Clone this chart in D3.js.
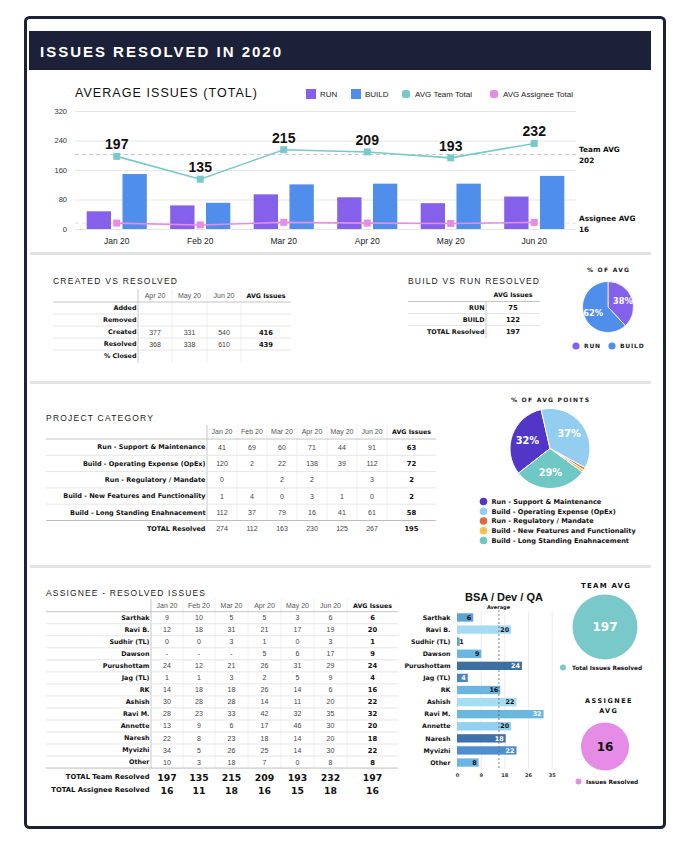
<!DOCTYPE html>
<html><head><meta charset="utf-8">
<script src="https://cdn.jsdelivr.net/npm/d3@7/dist/d3.min.js"></script>
<style>
body{margin:0;background:#fff;}
svg{display:block;font-family:"Liberation Sans",Arial,Helvetica,sans-serif;}
</style></head><body>
<svg id="c" width="673" height="841"></svg>
<script>
// ---------------- DATA ----------------
const months = ["Jan 20","Feb 20","Mar 20","Apr 20","May 20","Jun 20"];
const runValues = [48,64,94,86,70,88];
const buildValues = [149,71,121,123,123,144];
const teamTotals = [197,135,215,209,193,232];
const assigneeTotals = [16,11,18,16,15,18];
const teamAvgLine = 202;
const assigneeAvgLine = 16;
const yTicks = [0,80,160,240,320];

const crColumns = ["Apr 20","May 20","Jun 20","AVG Issues"];
const crRowLabels = ["Added","Removed","Created","Resolved","% Closed"];
const crValues = [["","","",""],["","","",""],["377","331","540","416"],["368","338","610","439"],["","","",""]];

const brColumns = ["AVG Issues"];
const brLabels = ["RUN","BUILD","TOTAL Resolved"];
const brValues = [["75"],["122"],["197"]];
const pieAvgLabels = ["RUN","BUILD"];
const pieAvgValues = [75,122];

const projColumns = ["Jan 20","Feb 20","Mar 20","Apr 20","May 20","Jun 20","AVG Issues"];
const projCategories = ["Run - Support & Maintenance","Build - Operating Expense (OpEx)","Run - Regulatory / Mandate","Build - New Features and Functionality","Build - Long Standing Enahnacement"];
const projValues = [
  ["41","69","60","71","44","91","63"],
  ["120","2","22","138","39","112","72"],
  ["0","","2","2","","3","2"],
  ["1","4","0","3","1","0","2"],
  ["112","37","79","16","41","61","58"]
];
const projTotals = ["274","112","163","230","125","267","195"];
const projPieValues = [63,72,2,2,58];

const assignees = ["Sarthak","Ravi B.","Sudhir (TL)","Dawson","Purushottam","Jag (TL)","RK","Ashish","Ravi M.","Annette","Naresh","Myvizhi","Other"];
const assigneeMonthly = [
  ["9","10","5","5","3","6","6"],
  ["12","18","31","21","17","19","20"],
  ["0","0","3","1","0","3","1"],
  ["-","-","-","5","6","17","9"],
  ["24","12","21","26","31","29","24"],
  ["1","1","3","2","5","9","4"],
  ["14","18","18","26","14","6","16"],
  ["30","28","28","14","11","20","22"],
  ["28","23","33","42","32","35","32"],
  ["13","9","6","17","46","30","20"],
  ["22","8","23","18","14","20","18"],
  ["34","5","26","25","14","30","22"],
  ["10","3","18","7","0","8","8"]
];
const teamResolvedRow = ["197","135","215","209","193","232","197"];
const assigneeResolvedRow = ["16","11","18","16","15","18","16"];
const assigneeAvgs = [6,20,1,9,24,4,16,22,32,20,18,22,8];
const bsaTicks = [0,8.75,17.5,26.25,35];
const bsaAverage = 15.5;
const teamAvgValue = 197;
const assigneeAvgValue = 16;

// ---------------- STYLES ----------------
const C_RUN = "#8560ea", C_BUILD = "#4f8eea", C_TEAM = "#79c9ca", C_ASG = "#e68ce6";
const pieAvgColors = [C_RUN, C_BUILD];
const projColors = ["#5236c8","#93cdf0","#e0683a","#f2c14e","#70c8c5"];
const bsaColors = ["#5ea3d3","#a6daf5","#5ea3d3","#6bb5e2","#3e6fa3","#4b86c4","#6cb5e0","#a6dcf4","#6ab7de","#94d0ef","#3f72a8","#4f8fcf","#6db6e3"];
const bsaLabelColors = ["#111","#111","#111","#111","#fff","#fff","#111","#111","#fff","#111","#fff","#fff","#111"];
const FONT = '"Liberation Sans",Arial,Helvetica,sans-serif';
const BF = '"DejaVu Sans",Verdana,sans-serif';

const svg = d3.select("#c");

// frame + header
svg.append("rect").attr("x",25.5).attr("y",17.5).attr("width",639).attr("height",810).attr("rx",4)
  .attr("fill","#fff").attr("stroke","#1e2236").attr("stroke-width",3);
svg.append("rect").attr("x",29).attr("y",31).attr("width",622).attr("height",39).attr("fill","#1c2039");
svg.append("text").attr("x",40).attr("y",57).attr("fill","#fff").attr("font-size",15).attr("font-weight",700)
  .attr("textLength",241).attr("lengthAdjust","spacing").text("ISSUES RESOLVED IN 2020");

// separators
[252,381,565].forEach(yy=>svg.append("rect").attr("x",30).attr("y",yy).attr("width",621).attr("height",3).attr("fill","#e2e2e2"));

function spacedText(x,y,txt,size,len,opts={}){
  return svg.append("text").attr("x",x).attr("y",y).attr("font-size",size)
    .attr("font-family",opts.family||FONT)
    .attr("font-weight",opts.weight||400).attr("fill",opts.fill||"#1a1a1a")
    .attr("text-anchor",opts.anchor||"start")
    .attr("textLength",len).attr("lengthAdjust","spacing").text(txt);
}

// ---------------- CHART 1 ----------------
spacedText(75,97,"AVERAGE ISSUES (TOTAL)",12.5,182,{fill:"#111"});
const legendItems = [
  {name:"RUN",color:C_RUN,x:306,shape:"sq"},
  {name:"BUILD",color:C_BUILD,x:351,shape:"sq"},
  {name:"AVG Team Total",color:C_TEAM,x:402,shape:"oct"},
  {name:"AVG Assignee Total",color:C_ASG,x:490,shape:"oct"}
];
const lg = svg.append("g");
lg.selectAll("rect").data(legendItems).join("rect")
  .attr("x",d=>d.x).attr("y",d=>d.shape==="sq"?89:90).attr("width",d=>d.shape==="sq"?10:8).attr("height",d=>d.shape==="sq"?10:8)
  .attr("rx",d=>d.shape==="sq"?0:2.5).attr("fill",d=>d.color);
lg.selectAll("text").data(legendItems).join("text")
  .attr("x",d=>d.x+(d.shape==="sq"?14:13)).attr("y",97).attr("font-size",8).attr("fill","#222").text(d=>d.name);

const x0 = d3.scaleBand().domain(months).range([75,576]).paddingInner(0.28).paddingOuter(0.14);
const x1 = d3.scaleBand().domain(["RUN","BUILD"]).range([0,x0.bandwidth()]).paddingInner(0.32);
const y = d3.scaleLinear().domain([0,320]).range([229,111]);

const gy = svg.append("g").attr("transform","translate(75,0)")
  .call(d3.axisLeft(y).tickValues(yTicks).tickSize(-(576-75)).tickPadding(8));
gy.select(".domain").remove();
gy.attr("font-family",FONT).attr("font-size",7.5);
gy.selectAll("line").attr("stroke","#e6e6e6");
gy.selectAll("text").attr("fill","#333");

const gx = svg.append("g").attr("transform","translate(0,229)")
  .call(d3.axisBottom(x0).tickSize(0).tickPadding(9));
gx.select(".domain").remove();
gx.attr("font-family",FONT).attr("font-size",8.5);
gx.selectAll("text").attr("fill","#222");

// avg dashed lines
svg.append("line").attr("x1",75).attr("x2",576).attr("y1",y(teamAvgLine)).attr("y2",y(teamAvgLine))
  .attr("stroke","#c9c9c9").attr("stroke-dasharray","4,3");
svg.append("line").attr("x1",75).attr("x2",576).attr("y1",y(assigneeAvgLine)).attr("y2",y(assigneeAvgLine))
  .attr("stroke","#e0e0e0").attr("stroke-dasharray","4,3");

const barData = months.map((m,i)=>({m, vals:[{k:"RUN",v:runValues[i]},{k:"BUILD",v:buildValues[i]}]}));
const bg = svg.append("g").selectAll("g").data(barData).join("g").attr("transform",d=>`translate(${x0(d.m)},0)`);
bg.selectAll("rect").data(d=>d.vals).join("rect")
  .attr("x",d=>x1(d.k)).attr("width",x1.bandwidth())
  .attr("y",d=>y(d.v)).attr("height",d=>y(0)-y(d.v))
  .attr("fill",d=>d.k==="RUN"?C_RUN:C_BUILD);

const cx = m=>x0(m)+x0.bandwidth()/2;
function drawLine(vals,color,labels){
  const pts = months.map((m,i)=>({m,v:vals[i]}));
  svg.append("path").datum(pts).attr("fill","none").attr("stroke",color).attr("stroke-width",1.6)
    .attr("d",d3.line().x(d=>cx(d.m)).y(d=>y(d.v)));
  svg.append("g").selectAll("rect").data(pts).join("rect")
    .attr("x",d=>cx(d.m)-3.5).attr("y",d=>y(d.v)-3.5).attr("width",7).attr("height",7).attr("fill",color);
  if(labels){
    svg.append("g").selectAll("text").data(pts).join("text")
      .attr("x",d=>cx(d.m)).attr("y",d=>y(d.v)-7).attr("text-anchor","middle")
      .attr("font-size",14).attr("font-weight",700).attr("fill","#111").text(d=>d.v);
  }
}
drawLine(teamTotals,C_TEAM,true);
drawLine(assigneeTotals,C_ASG,false);

const sideLabels = [["Team AVG",151.5],[String(teamAvgLine),163],["Assignee AVG",220.5],[String(assigneeAvgLine),232]];
svg.append("g").selectAll("text").data(sideLabels).join("text")
  .attr("x",579).attr("y",d=>d[1]).attr("font-family",BF).attr("font-size",7.3).attr("font-weight",700).attr("fill","#111").text(d=>d[0]);

// ---------------- TABLE HELPER ----------------
function drawTable(o){
  const g = svg.append("g");
  const centers = o.edges.slice(0,-1).map((e,i)=>(e+o.edges[i+1])/2);
  g.selectAll(".vs").data(o.edges.slice(1,-1)).join("line")
    .attr("x1",d=>d).attr("x2",d=>d).attr("y1",o.headerTop).attr("y2",o.bodyBottom).attr("stroke","#f0f0f0");
  g.append("line").attr("x1",o.edges[0]).attr("x2",o.edges[0]).attr("y1",o.headerTop).attr("y2",o.bodyBottom).attr("stroke","#c8c8c8");
  g.append("line").attr("x1",o.left).attr("x2",o.right).attr("y1",o.rowTop).attr("y2",o.rowTop).attr("stroke","#c4c4c4");
  g.selectAll(".hd").data(o.columns).join("text")
    .attr("x",(d,i)=>centers[i]).attr("y",o.headerY+2.5).attr("text-anchor","middle")
    .attr("font-family",d=>d==="AVG Issues"?BF:FONT)
    .attr("font-size",d=>d==="AVG Issues"?6.3:7).attr("font-weight",d=>d==="AVG Issues"?700:400)
    .attr("fill",d=>d==="AVG Issues"?"#111":"#555").text(d=>d);
  const rows = o.rows.map((r,i)=>({...r, cy:o.rowTop+o.rowH*(i+0.5), i}));
  g.selectAll(".rl").data(rows.slice(0, o.lastLine?rows.length:rows.length-1)).join("line")
    .attr("x1",o.left).attr("x2",o.right).attr("y1",d=>d.cy+o.rowH/2).attr("y2",d=>d.cy+o.rowH/2)
    .attr("stroke",(d,i)=>i===rows.length-1?"#bdbdbd":"#e6e6e6");
  const rg = g.selectAll(".row").data(rows.concat(o.extra||[])).join("g");
  rg.append("text").attr("x",o.edges[0]-1.5).attr("y",d=>d.cy+2.3).attr("text-anchor","end")
    .attr("font-family",BF).attr("font-size",d=>d.lsize||o.lsize||6.4).attr("font-weight",700).attr("fill","#111").text(d=>d.label);
  const isB = d=>d.j===o.columns.length-1&&o.boldLast;
  rg.selectAll(".v").data(d=>d.values.map((v,j)=>({v,j,big:d.big,cy:d.cy}))).join("text")
    .attr("x",d=>centers[d.j]).attr("y",d=>d.cy+(d.big?3.5:2.5)).attr("text-anchor","middle")
    .attr("font-family",d=>(d.big||isB(d))?BF:FONT)
    .attr("font-size",d=>d.big?9.3:(isB(d)?6.8:7))
    .attr("font-weight",d=>(d.big||isB(d))?700:400)
    .attr("fill",d=>(d.big||isB(d))?"#111":"#444").text(d=>d.v);
  return g;
}

// ---------------- CREATED VS RESOLVED ----------------
spacedText(53,284,"CREATED VS RESOLVED",8.5,124);
drawTable({left:53,right:291,edges:[138,172,207,241,291],columns:crColumns,headerTop:289,headerY:295,
  rowTop:302,rowH:12,bodyBottom:363,boldLast:true,
  rows:crRowLabels.map((l,i)=>({label:l,values:crValues[i]}))});

// ---------------- BUILD VS RUN ----------------
spacedText(408,284,"BUILD VS RUN RESOLVED",8.5,131);
drawTable({left:408,right:540,edges:[486,540],columns:brColumns,headerTop:301.5,headerY:294,
  rowTop:301.5,rowH:12,bodyBottom:338,boldLast:true,
  rows:brLabels.map((l,i)=>({label:l,values:brValues[i]}))});

// pie % OF AVG
spacedText(608,271.5,"% OF AVG",6,42,{weight:700,anchor:"middle",family:BF});
const pie1 = d3.pie().sort(null)(pieAvgValues);
const arc1 = d3.arc().innerRadius(0).outerRadius(25.5);
const lab1 = d3.arc().innerRadius(16).outerRadius(16);
const p1 = svg.append("g").attr("transform","translate(608,307)");
p1.selectAll("path").data(pie1).join("path").attr("d",arc1).attr("fill",(d,i)=>pieAvgColors[i]).attr("stroke","#fff").attr("stroke-width",0.8);
const tot1 = d3.sum(pieAvgValues);
p1.selectAll("text").data(pie1).join("text").attr("transform",d=>`translate(${lab1.centroid(d)})`)
  .attr("dy","0.35em").attr("text-anchor","middle").attr("font-family",BF).attr("font-size",8.3).attr("font-weight",700).attr("fill","#fff")
  .text(d=>Math.round(d.value/tot1*100)+"%");
const l1 = svg.append("g").selectAll("g").data(pieAvgLabels).join("g")
  .attr("transform",(d,i)=>`translate(${i===0?576:612},346)`);
l1.append("circle").attr("r",3.6).attr("fill",(d,i)=>pieAvgColors[i]);
l1.append("text").attr("x",8).attr("dy","0.35em").attr("font-family",BF).attr("font-size",6).attr("font-weight",700).attr("letter-spacing",0.8).attr("fill","#222").text(d=>d);

// ---------------- PROJECT CATEGORY ----------------
spacedText(46,421,"PROJECT CATEGORY",8.5,107);
drawTable({left:46,right:436,edges:[207,237,267,297,327,357,387,436],columns:projColumns,headerTop:425,headerY:431,
  rowTop:439,rowH:16.3,bodyBottom:520.5,boldLast:true,lastLine:true,lsize:6.5,
  rows:projCategories.map((l,i)=>({label:l,values:projValues[i]})),
  extra:[{label:"TOTAL Resolved",values:projTotals,cy:528.5}]});

// pie % OF AVG POINTS
spacedText(550,401.5,"% OF AVG POINTS",6,78,{weight:700,anchor:"middle",family:BF});
const pie2 = d3.pie().sort(null).startAngle(232*Math.PI/180).endAngle((232+360)*Math.PI/180)(projPieValues);
const arc2 = d3.arc().innerRadius(0).outerRadius(40);
const lab2 = d3.arc().innerRadius(24).outerRadius(24);
const p2 = svg.append("g").attr("transform","translate(550,448.5)");
p2.selectAll("path").data(pie2).join("path").attr("d",arc2).attr("fill",(d,i)=>projColors[i]).attr("stroke","#fff").attr("stroke-width",1);
const tot2 = d3.sum(projPieValues);
p2.selectAll("text").data(pie2.filter(d=>d.value/tot2>0.05)).join("text").attr("transform",d=>`translate(${lab2.centroid(d)})`)
  .attr("dy","0.35em").attr("text-anchor","middle").attr("font-family",BF).attr("font-size",9.8).attr("font-weight",700).attr("fill","#fff")
  .text(d=>Math.round(d.value/tot2*100)+"%");
const l2 = svg.append("g").selectAll("g").data(projCategories).join("g")
  .attr("transform",(d,i)=>`translate(483.5,${501.5+i*9.75})`);
l2.append("circle").attr("r",3.8).attr("fill",(d,i)=>projColors[i]);
l2.append("text").attr("x",8).attr("dy","0.35em").attr("font-family",BF).attr("font-size",6.6).attr("font-weight",700).attr("fill","#111").text(d=>d);

// ---------------- ASSIGNEE TABLE ----------------
spacedText(46,595.5,"ASSIGNEE - RESOLVED ISSUES",8.5,159);
drawTable({left:46,right:398,edges:[151,183,215,248,281,314,347,398],columns:projColumns,headerTop:599,headerY:605,
  rowTop:611.7,rowH:12.03,bodyBottom:768,boldLast:true,lastLine:true,lsize:6.4,
  rows:assignees.map((l,i)=>({label:l,values:assigneeMonthly[i]})),
  extra:[{label:"TOTAL Team Resolved",values:teamResolvedRow,cy:777,big:true,lsize:6.8},
         {label:"TOTAL Assignee Resolved",values:assigneeResolvedRow,cy:790,big:true,lsize:6.8}]});

// ---------------- BSA / DEV / QA ----------------
svg.append("text").attr("x",504).attr("y",600.5).attr("text-anchor","middle").attr("font-size",11).attr("font-weight",700).attr("fill","#111").text("BSA / Dev / QA");
svg.append("text").attr("x",498.5).attr("y",609).attr("text-anchor","middle").attr("font-family",BF).attr("font-size",5).attr("font-weight",700).attr("fill","#111").text("Average");
const bx = d3.scaleLinear().domain([0,35]).range([457,551.7]);
const by = d3.scaleBand().domain(assignees).range([611.5,768.5]).paddingInner(0.31).paddingOuter(0.15);
const bax = svg.append("g").attr("transform","translate(0,769)")
  .call(d3.axisBottom(bx).tickValues(bsaTicks).tickSize(-(769-611)).tickPadding(4).tickFormat(d3.format(".0f")));
bax.select(".domain").remove();
bax.attr("font-family",BF).attr("font-size",5).attr("font-weight",700);
bax.selectAll("line").attr("stroke","#ececec");
bax.selectAll("text").attr("fill","#333");
const bsaData = assignees.map((a,i)=>({a,v:assigneeAvgs[i],c:bsaColors[i],lc:bsaLabelColors[i]}));
svg.append("g").selectAll("rect").data(bsaData).join("rect")
  .attr("x",bx(0)).attr("y",d=>by(d.a)).attr("width",d=>bx(d.v)-bx(0)).attr("height",by.bandwidth()).attr("fill",d=>d.c);
svg.append("line").attr("x1",bx(bsaAverage)).attr("x2",bx(bsaAverage)).attr("y1",610).attr("y2",769)
  .attr("stroke","#666").attr("stroke-width",0.8).attr("stroke-dasharray","2,2");
svg.append("g").selectAll("text").data(bsaData).join("text")
  .attr("x",d=>(bx(d.v)-bx(0))<8?bx(d.v)-0.5:bx(d.v)-2).attr("y",d=>by(d.a)+by.bandwidth()/2).attr("dy","0.35em")
  .attr("text-anchor",d=>(bx(d.v)-bx(0))<8?"start":"end")
  .attr("font-family",BF).attr("font-size",6.4).attr("font-weight",700).attr("fill",d=>(bx(d.v)-bx(0))<8?"#111":d.lc).text(d=>d.v);
svg.append("g").selectAll("text").data(assignees).join("text")
  .attr("x",450.5).attr("y",d=>by(d)+by.bandwidth()/2).attr("dy","0.35em").attr("text-anchor","end")
  .attr("font-family",BF).attr("font-size",6.3).attr("font-weight",700).attr("fill","#111").text(d=>d);

// ---------------- TEAM / ASSIGNEE AVG ----------------
spacedText(605.5,588,"TEAM AVG",7,49,{weight:700,anchor:"middle",fill:"#111",family:BF});
svg.append("circle").attr("cx",605).attr("cy",627).attr("r",32.5).attr("fill",C_TEAM);
svg.append("text").attr("x",605).attr("y",627).attr("dy","0.35em").attr("text-anchor","middle").attr("font-family",BF).attr("font-size",12).attr("font-weight",700).attr("fill","#fff").text(teamAvgValue);
svg.append("circle").attr("cx",563).attr("cy",667.5).attr("r",3).attr("fill",C_TEAM);
svg.append("text").attr("x",572).attr("y",667.5).attr("dy","0.35em").attr("font-family",BF).attr("font-size",5.8).attr("font-weight",700).attr("fill","#111").text("Total Issues Resolved");

spacedText(608.3,702.5,"ASSIGNEE",6.5,46.5,{weight:700,anchor:"middle",fill:"#111",family:BF});
spacedText(608,713,"AVG",6.5,17.5,{weight:700,anchor:"middle",fill:"#111",family:BF});
svg.append("circle").attr("cx",605).attr("cy",746.5).attr("r",24).attr("fill",C_ASG);
svg.append("text").attr("x",605).attr("y",746.5).attr("dy","0.35em").attr("text-anchor","middle").attr("font-family",BF).attr("font-size",12).attr("font-weight",700).attr("fill","#111").text(assigneeAvgValue);
svg.append("circle").attr("cx",578.5).attr("cy",781.5).attr("r",3).attr("fill",C_ASG);
svg.append("text").attr("x",586).attr("y",781.5).attr("dy","0.35em").attr("font-family",BF).attr("font-size",5.8).attr("font-weight",700).attr("fill","#111").text("Issues Resolved");
</script>
</body></html>
